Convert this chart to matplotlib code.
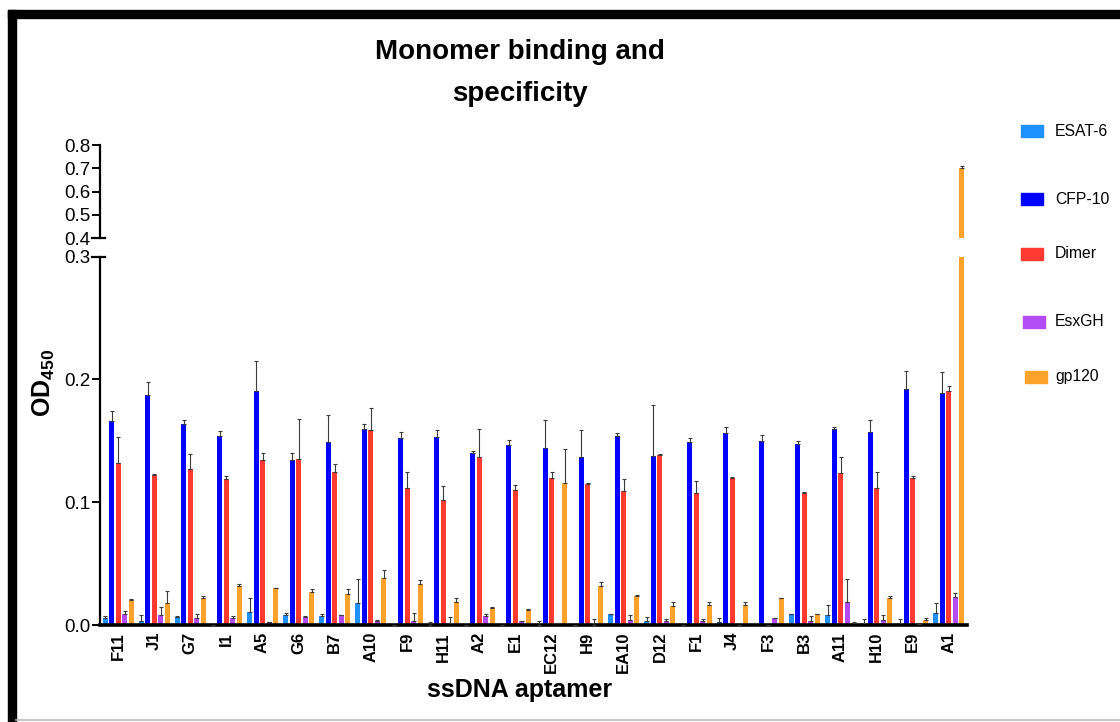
import matplotlib
matplotlib.use("Agg")
import matplotlib.pyplot as plt
import numpy as np
from matplotlib.patches import Rectangle
from matplotlib.lines import Line2D

plt.rcParams['font.family'] = ['Liberation Sans', 'DejaVu Sans']
plt.rcParams['mathtext.fontset'] = 'custom'
plt.rcParams['mathtext.rm'] = 'Liberation Sans'
plt.rcParams['mathtext.bf'] = 'Liberation Sans:bold'

aptamers = ['F11', 'J1', 'G7', 'I1', 'A5', 'G6', 'B7', 'A10', 'F9', 'H11', 'A2', 'E1',
            'EC12', 'H9', 'EA10', 'D12', 'F1', 'J4', 'F3', 'B3', 'A11', 'H10', 'E9', 'A1']

series_names = ['ESAT-6', 'CFP-10', 'Dimer', 'EsxGH', 'gp120']

esat = [0.0054, 0.0035, 0.0067, 0.0, 0.0108, 0.008, 0.0073, 0.018, 0.0, 0.0, 0.0, 0.0,
        0.0, 0.0, 0.0087, 0.003, 0.0, 0.0022, 0.0014, 0.0087, 0.0078, 0.002, 0.002, 0.0097]
esat_err = [0.0016, 0.0045, 0.0005, 0.0, 0.011, 0.0018, 0.0017, 0.0198, 0.0, 0.0027, 0.0, 0.0,
            0.003, 0.0, 0.0003, 0.0038, 0.0, 0.0038, 0.0, 0.0003, 0.0082, 0.003, 0.003, 0.0083]

cfp = [0.1665, 0.187, 0.164, 0.154, 0.191, 0.134, 0.149, 0.1595, 0.152, 0.153, 0.1405, 0.1465,
       0.1444, 0.137, 0.1536, 0.138, 0.149, 0.1565, 0.1495, 0.1473, 0.1597, 0.157, 0.192, 0.1887]
cfp_err = [0.0075, 0.011, 0.0033, 0.004, 0.024, 0.006, 0.0224, 0.0043, 0.005, 0.006, 0.0015, 0.0045,
           0.0226, 0.022, 0.0024, 0.041, 0.003, 0.0045, 0.0055, 0.0027, 0.0013, 0.010, 0.015, 0.0173]

dimer = [0.132, 0.122, 0.127, 0.119, 0.134, 0.135, 0.1246, 0.159, 0.112, 0.1016, 0.137, 0.110,
         0.120, 0.1146, 0.1095, 0.1384, 0.1076, 0.1195, 0.0, 0.1078, 0.1238, 0.112, 0.1197, 0.1906]
dimer_err = [0.021, 0.001, 0.012, 0.002, 0.006, 0.033, 0.0064, 0.018, 0.013, 0.0114, 0.0225, 0.004,
             0.005, 0.0008, 0.0095, 0.0008, 0.0094, 0.0008, 0.0, 0.0005, 0.0127, 0.013, 0.0019, 0.0044]

esxgh = [0.0087, 0.008, 0.006, 0.0054, 0.0022, 0.0067, 0.008, 0.0035, 0.0035, 0.002, 0.0076, 0.003,
         0.0014, 0.0, 0.004, 0.003, 0.003, 0.0, 0.0054, 0.003, 0.019, 0.004, 0.001, 0.0225]
esxgh_err = [0.0023, 0.007, 0.003, 0.0016, 0.0, 0.0005, 0.0005, 0.0005, 0.0062, 0.0045, 0.0011, 0.0005,
             0.0, 0.005, 0.004, 0.002, 0.002, 0.0, 0.0005, 0.004, 0.0183, 0.004, 0.0, 0.0035]

gp120 = [0.0203, 0.018, 0.022, 0.0314, 0.030, 0.0265, 0.0249, 0.0384, 0.033, 0.0187, 0.014, 0.0122,
         0.1157, 0.0316, 0.0238, 0.0157, 0.0162, 0.0165, 0.0216, 0.0087, 0.002, 0.022, 0.004, 0.702]
gp120_err = [0.001, 0.0096, 0.002, 0.0016, 0.0005, 0.0025, 0.0048, 0.0062, 0.004, 0.0033, 0.0005, 0.0005,
             0.0273, 0.0034, 0.0005, 0.0033, 0.0028, 0.0025, 0.0005, 0.0005, 0.0005, 0.0015, 0.002, 0.010]

lower_ticks = [0.0, 0.1, 0.2, 0.3]
upper_ticks = [0.4, 0.5, 0.6, 0.7, 0.8]

colors = ['#1E90FF', '#0000FF', '#FF3A30', '#B44CF5', '#FFA22B']
values = [esat, cfp, dimer, esxgh, gp120]
errors = [esat_err, cfp_err, dimer_err, esxgh_err, gp120_err]

W, H = 1120, 722
fig = plt.figure(figsize=(W / 100, H / 100), dpi=100)
fig.patch.set_facecolor('white')

left = 100 / W
width = 867 / W
ax_lo = fig.add_axes([left, (H - 625) / H, width, 368.3 / H])
ax_hi = fig.add_axes([left, (H - 238.3) / H, width, 93.3 / H])

x = np.arange(len(aptamers))
step = 0.18
bw = 0.14
for ax in (ax_lo, ax_hi):
    for k, (vals, errs, c) in enumerate(zip(values, errors, colors)):
        pos = x + (k - 2) * step
        ax.bar(pos, vals, width=bw, color=c, edgecolor='none', zorder=2)
        ax.errorbar(pos, vals, yerr=[np.zeros(len(errs)), errs], fmt='none',
                    ecolor='#3a3a3a', elinewidth=0.8, capsize=1.6, capthick=0.8, zorder=3)
    ax.set_xlim(-0.5, len(aptamers) - 0.5)
    ax.spines['top'].set_visible(False)
    ax.spines['right'].set_visible(False)
    ax.spines['left'].set_linewidth(1.6)
    ax.tick_params(axis='y', direction='out', length=6, width=1.4, labelsize=13.5, pad=1)
    ax.patch.set_alpha(0)

ax_lo.set_ylim(0, 0.3)
ax_lo.set_yticks(lower_ticks)
ax_lo.set_yticklabels(['0.0', '0.1', '0.2', '0.3'])
ax_lo.spines['bottom'].set_linewidth(2.6)
ax_lo.set_xticks(x)
ax_lo.set_xticklabels(aptamers, rotation=90, fontsize=12, fontweight='bold')
ax_lo.tick_params(axis='x', length=0, pad=5)

ax_hi.set_ylim(0.4, 0.8)
ax_hi.set_yticks(upper_ticks)
ax_hi.set_yticklabels(['0.4', '0.5', '0.6', '0.7', '0.8'])
ax_hi.spines['bottom'].set_visible(False)
ax_hi.set_xticks([])

# break marks
for yb in (238.3, 256.7):
    fig.add_artist(Line2D([92 / W, 105 / W], [(H - yb) / H, (H - yb) / H],
                          color='black', lw=1.6, transform=fig.transFigure))

fig.text(520 / W, (H - 52) / H, 'Monomer binding and', ha='center', va='center',
         fontsize=20, fontweight='bold')
fig.text(520 / W, (H - 94) / H, 'specificity', ha='center', va='center',
         fontsize=20, fontweight='bold')
fig.text(44 / W, (H - 383) / H, r'$\mathbf{OD}_{\mathbf{450}}$', rotation=90,
         ha='center', va='center', fontsize=18)
fig.text(520 / W, (H - 690) / H, 'ssDNA aptamer', ha='center', va='center',
         fontsize=18, fontweight='bold')

# legend
leg_y = [131, 199, 254, 322, 377]
leg_x = [1021, 1021, 1021, 1023, 1025]
for name, c, yy, xx in zip(series_names, colors, leg_y, leg_x):
    fig.add_artist(Rectangle((xx / W, (H - yy - 6) / H), 22 / W, 12 / H, color=c,
                             transform=fig.transFigure))
    fig.text(1055 / W, (H - yy) / H, name, ha='left', va='center', fontsize=11.3)

# frame
fig.add_artist(Rectangle((8 / W, (H - 18) / H), 1 - 8 / W, 8 / H, color='black',
                         transform=fig.transFigure))
fig.add_artist(Rectangle((8 / W, 0), 8 / W, (H - 10) / H, color='black',
                         transform=fig.transFigure))
fig.add_artist(Line2D([16 / W, 1], [2.5 / H, 2.5 / H], color='#bbbbbb', lw=1.2,
                      transform=fig.transFigure))

fig.savefig('out.png', dpi=100, facecolor='white')
